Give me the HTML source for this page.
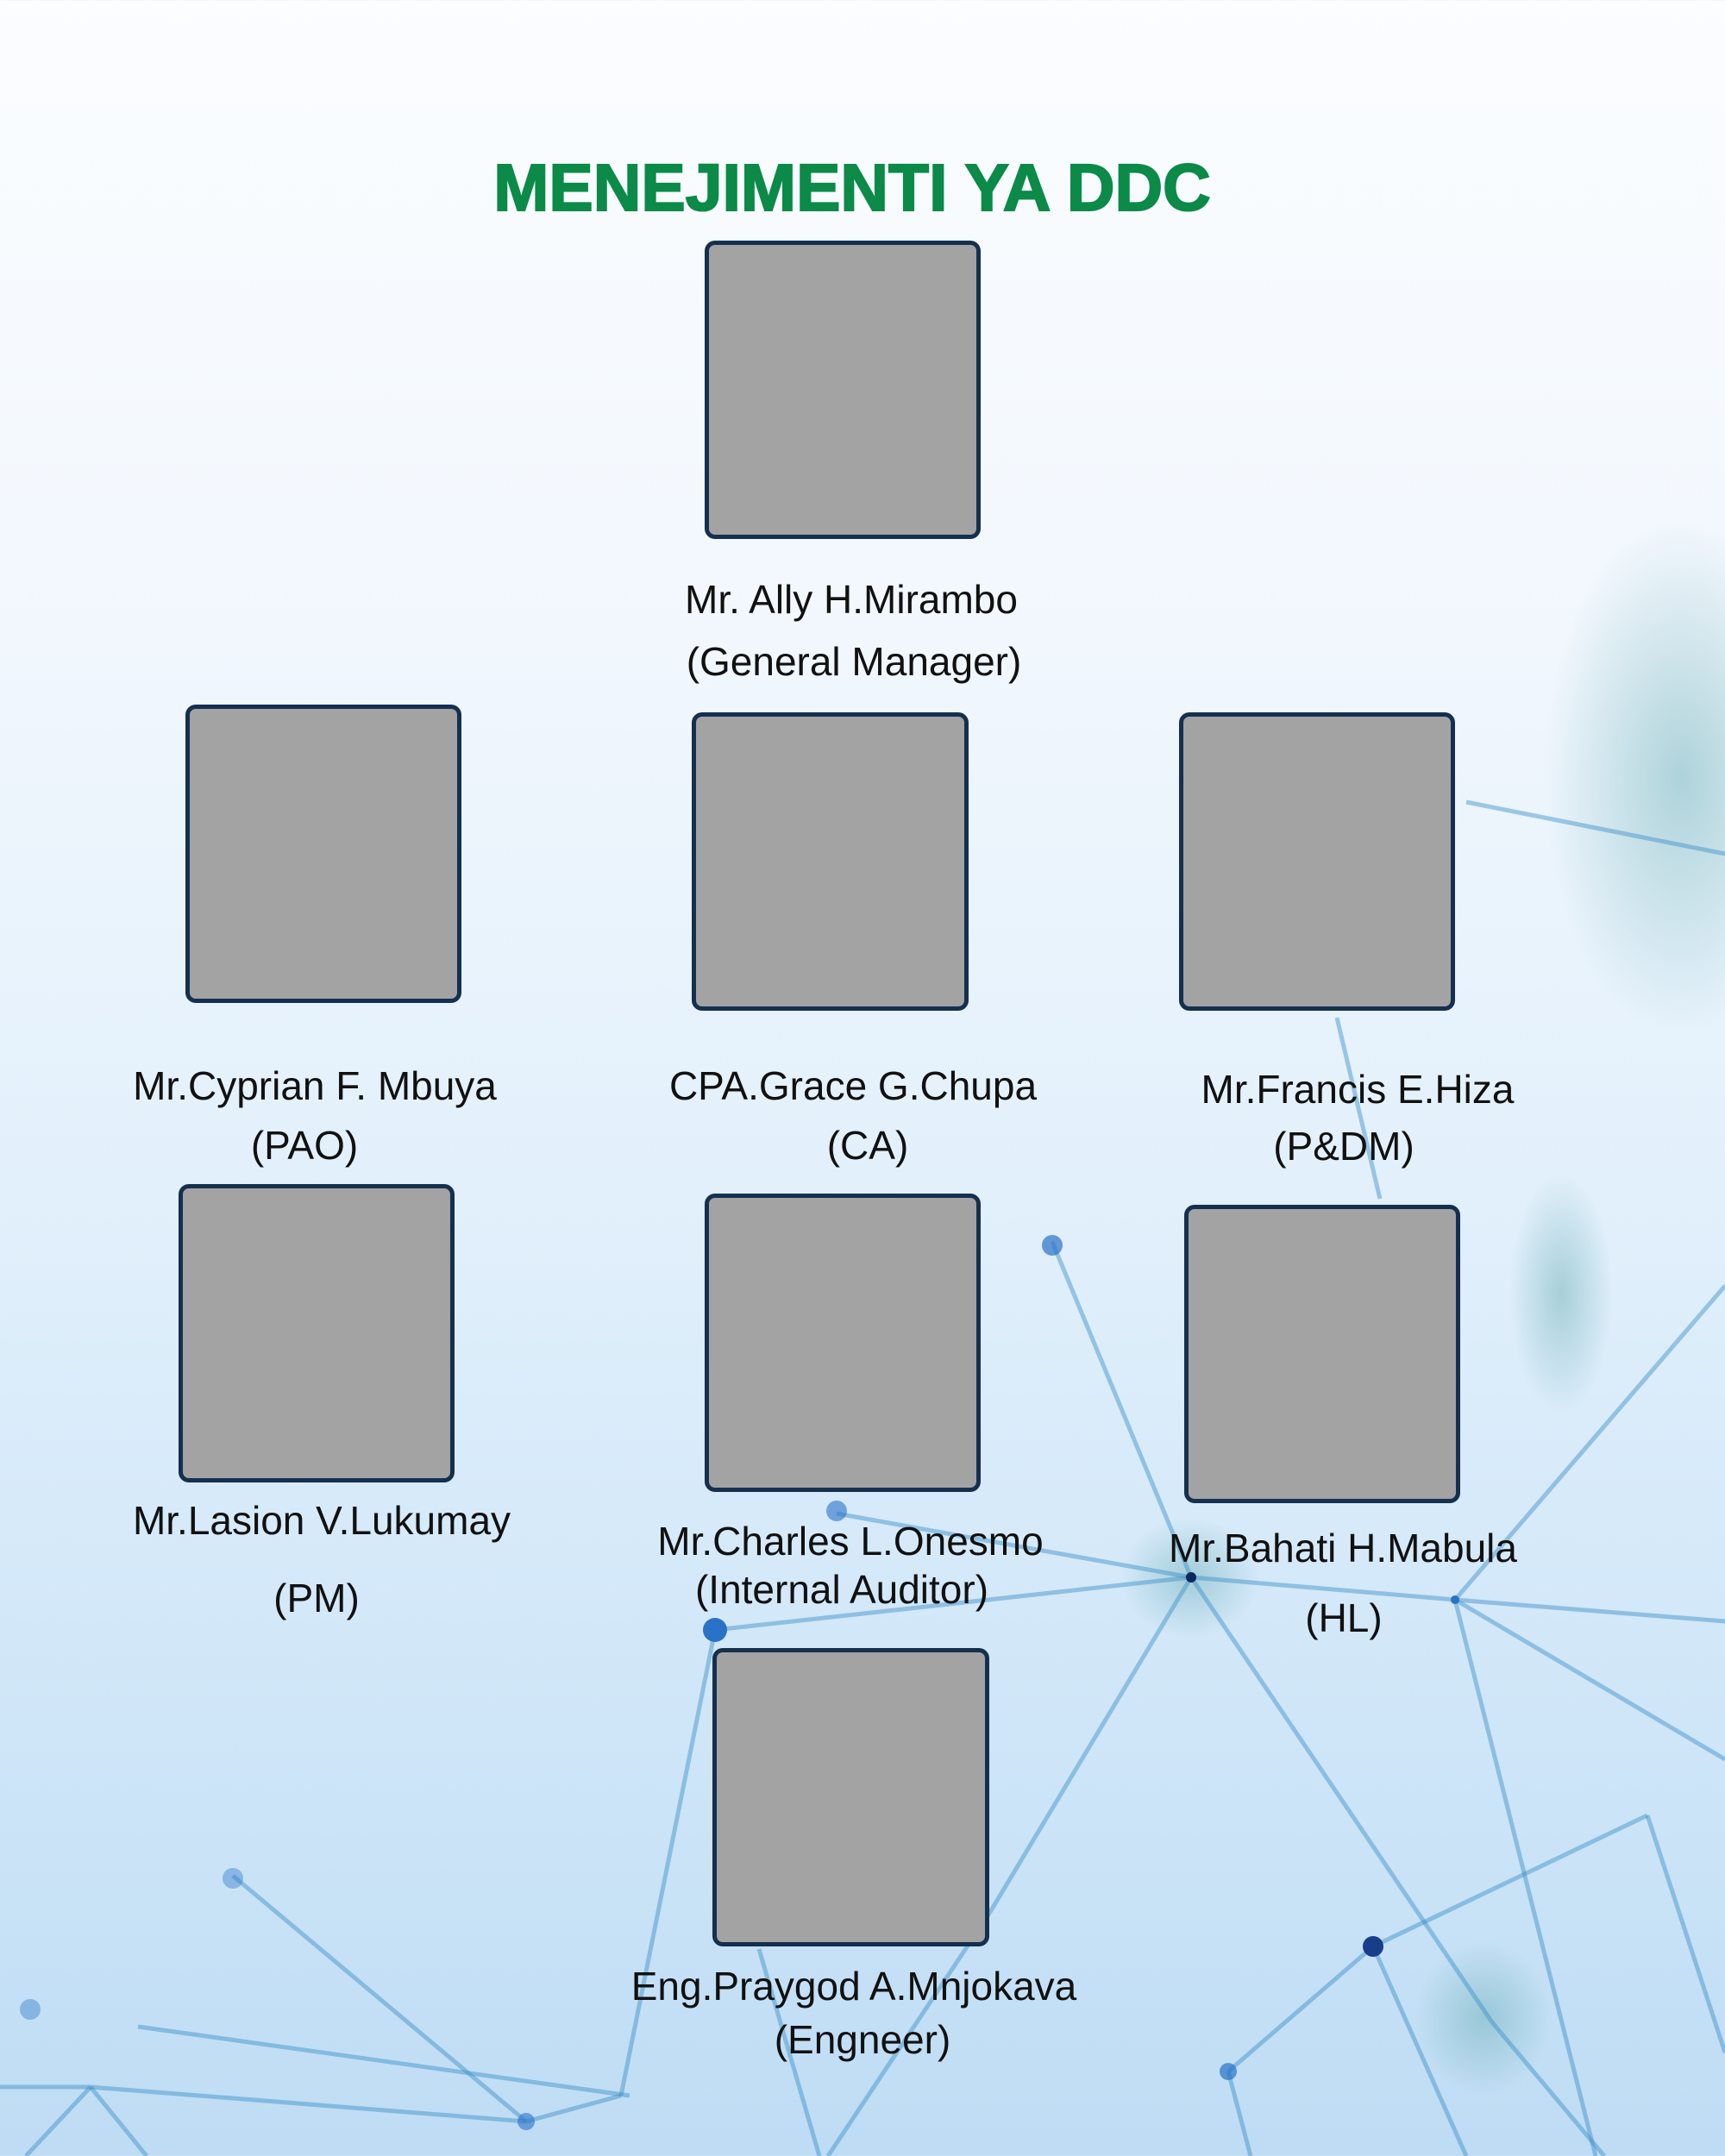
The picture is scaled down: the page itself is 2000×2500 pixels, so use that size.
<!DOCTYPE html>
<html><head><meta charset="utf-8"><style>
html,body{margin:0;padding:0}
body{width:2000px;height:2500px;position:relative;overflow:hidden;background:linear-gradient(180deg,#fbfdff 0%,#f1f7fd 30%,#e2f0fb 55%,#cfe6f8 80%,#bedcf4 100%);font-family:"Liberation Sans",sans-serif}
.b{position:absolute;background:#a3a3a3;border:5px solid #15304f;border-radius:12px;box-sizing:border-box}
.t{position:absolute;width:1000px;text-align:center;font-size:46px;color:#111;line-height:1}
h1{position:absolute;left:0;width:1976px;top:174px;margin:0;text-align:center;font-size:77px;font-weight:900;color:#0b8a48;letter-spacing:0;-webkit-text-stroke:2px #0b8a48;font-family:"Liberation Sans",sans-serif}
svg{position:absolute;left:0;top:0}
</style></head><body>
<svg width="2000" height="2500">
<defs><radialGradient id="g"><stop offset="0" stop-color="#6fb0b8" stop-opacity=".5"/><stop offset="1" stop-color="#6fb0b8" stop-opacity="0"/></radialGradient></defs>
<ellipse cx="1950" cy="900" rx="160" ry="300" fill="url(#g)"/>
<ellipse cx="1810" cy="1500" rx="60" ry="140" fill="url(#g)"/>
<ellipse cx="1720" cy="2340" rx="80" ry="90" fill="url(#g)"/>
<ellipse cx="1380" cy="1830" rx="80" ry="70" fill="url(#g)"/>
<g stroke="#3a8fc8" stroke-opacity=".45" stroke-width="5" fill="none">
<line x1="1381" y1="1829" x2="1687" y2="1855"/>
<line x1="1381" y1="1829" x2="829" y2="1890"/>
<line x1="1381" y1="1829" x2="970" y2="1755"/>
<line x1="1381" y1="1829" x2="1730" y2="2345"/>
<line x1="1381" y1="1829" x2="1148" y2="2217"/>
<line x1="1381" y1="1829" x2="1220" y2="1440"/>
<line x1="1687" y1="1855" x2="2000" y2="1491"/>
<line x1="1687" y1="1855" x2="2000" y2="1880"/>
<line x1="1687" y1="1855" x2="2000" y2="2040"/>
<line x1="1687" y1="1855" x2="1850" y2="2500"/>
<line x1="1730" y1="2345" x2="1860" y2="2500"/>
<line x1="1592" y1="2257" x2="1700" y2="2500"/>
<line x1="1592" y1="2257" x2="1424" y2="2402"/>
<line x1="1592" y1="2257" x2="1910" y2="2105"/>
<line x1="1910" y1="2105" x2="2000" y2="2380"/>
<line x1="1424" y1="2402" x2="1450" y2="2500"/>
<line x1="829" y1="1890" x2="720" y2="2430"/>
<line x1="1148" y1="2217" x2="960" y2="2500"/>
<line x1="880" y1="2260" x2="950" y2="2500"/>
<line x1="270" y1="2175" x2="610" y2="2460"/>
<line x1="105" y1="2420" x2="610" y2="2460"/>
<line x1="160" y1="2350" x2="730" y2="2430"/>
<line x1="0" y1="2420" x2="105" y2="2420"/>
<line x1="105" y1="2420" x2="30" y2="2500"/>
<line x1="105" y1="2420" x2="170" y2="2500"/>
<line x1="720" y1="2430" x2="610" y2="2460"/>
<line x1="1700" y1="930" x2="2000" y2="990"/>
<line x1="1550" y1="1180" x2="1600" y2="1390"/>
</g>
<g fill="#2a72c8"><circle cx="1381" cy="1829" r="6" fill="#0a2a5a"/><circle cx="1220" cy="1444" r="12" opacity=".7"/><circle cx="829" cy="1890" r="14"/><circle cx="970" cy="1752" r="12" opacity=".6"/><circle cx="1592" cy="2257" r="12" fill="#163e8a"/><circle cx="1424" cy="2402" r="10" opacity=".7"/><circle cx="1687" cy="1855" r="5"/><circle cx="270" cy="2178" r="12" opacity=".4"/><circle cx="35" cy="2330" r="12" opacity=".4"/><circle cx="610" cy="2460" r="10" opacity=".6"/></g>
</svg>
<h1>MENEJIMENTI YA DDC</h1>
<div class="b" style="left:817px;top:279px;width:320px;height:346px"></div>
<div class="b" style="left:215px;top:817px;width:320px;height:346px"></div>
<div class="b" style="left:802px;top:826px;width:321px;height:346px"></div>
<div class="b" style="left:1367px;top:826px;width:320px;height:346px"></div>
<div class="b" style="left:207px;top:1373px;width:320px;height:346px"></div>
<div class="b" style="left:817px;top:1384px;width:320px;height:346px"></div>
<div class="b" style="left:1373px;top:1397px;width:320px;height:346px"></div>
<div class="b" style="left:826px;top:1911px;width:321px;height:346px"></div>
<div class="t" style="left:487px;top:672px">Mr. Ally H.Mirambo</div>
<div class="t" style="left:490px;top:744px">(General Manager)</div>
<div class="t" style="left:-135px;top:1236px">Mr.Cyprian F. Mbuya</div>
<div class="t" style="left:-147px;top:1305px">(PAO)</div>
<div class="t" style="left:489px;top:1236px">CPA.Grace G.Chupa</div>
<div class="t" style="left:506px;top:1305px">(CA)</div>
<div class="t" style="left:1074px;top:1240px">Mr.Francis E.Hiza</div>
<div class="t" style="left:1058px;top:1306px">(P&amp;DM)</div>
<div class="t" style="left:-127px;top:1740px">Mr.Lasion V.Lukumay</div>
<div class="t" style="left:-133px;top:1830px">(PM)</div>
<div class="t" style="left:486px;top:1764px">Mr.Charles L.Onesmo</div>
<div class="t" style="left:476px;top:1820px">(Internal Auditor)</div>
<div class="t" style="left:1057px;top:1772px">Mr.Bahati H.Mabula</div>
<div class="t" style="left:1058px;top:1853px">(HL)</div>
<div class="t" style="left:490px;top:2280px">Eng.Praygod A.Mnjokava</div>
<div class="t" style="left:500px;top:2342px">(Engneer)</div>
</body></html>
